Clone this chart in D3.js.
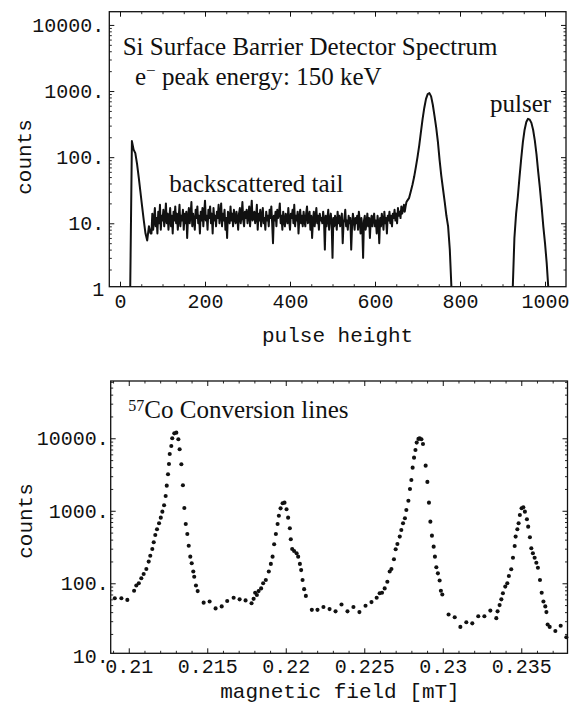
<!DOCTYPE html>
<html lang="en">
<head>
<meta charset="utf-8">
<title>Si detector spectrum and 57Co conversion lines</title>
<script src="https://cdn.jsdelivr.net/npm/d3@7"></script>
<style>
body{margin:0;background:#fff;}
svg{display:block;background:#fff;}
.mono{font-family:"Liberation Mono","DejaVu Sans Mono",monospace;}
.serif{font-family:"Liberation Serif","DejaVu Serif",serif;}
</style>
</head>
<body>
<div id="chart"></div>
<script>
// ---- data, top panel: pulse height spectrum
// low-energy edge peak, channels 24..72 in steps of 4
var edgeStart = 24, edgeStep = 4;
var edgeCounts = [1, 175, 130, 115, 80, 50, 30, 18, 11, 7, 5.5, 9, 7];

// backscattered tail, channels 74..676 in steps of 2
var tailStart = 74, tailStep = 2;
var tailCounts = [
  7,
  14, 8, 11, 17, 9, 12, 7, 15, 10, 19, 8, 13, 11, 16, 9, 12, 20, 10, 14, 8,
  12, 17, 9, 13, 7, 15, 11, 18, 10, 14, 8, 12, 19, 9, 13, 11, 16, 8, 14, 10,
  15, 6, 12, 17, 10, 13, 21, 9, 14, 11, 8, 16, 12, 18, 10, 13, 7, 15, 11, 17,
  9, 14, 22, 11, 13, 8, 16, 12, 18, 10, 14, 7, 17, 11, 13, 9, 15, 12, 19, 10,
  13, 20, 9, 14, 11, 16, 8, 12, 6, 15, 13, 10, 18, 11, 14, 9, 16, 12, 10, 15,
  12, 8, 14, 17, 10, 13, 21, 11, 9, 15, 12, 16, 10, 13, 18, 9, 14, 22, 11, 13,
  15, 10, 12, 19, 8, 14, 11, 16, 9, 13, 17, 10, 12, 8, 15, 11, 13, 9, 16, 12,
  18, 10, 5, 13, 11, 15, 9, 16, 12, 14, 20, 10, 13, 8, 15, 11, 9, 14, 12, 10,
  17, 11, 8, 14, 12, 16, 10, 19, 9, 13, 11, 15, 7, 12, 16, 10, 13, 9, 15, 11,
  9, 14, 18, 10, 12, 15, 8, 13, 6, 11, 15, 9, 12, 17, 10, 13, 8, 14, 11, 12,
  10, 15, 11, 4, 13, 9, 12, 16, 8, 11, 14, 10, 3, 12, 9, 13, 11, 8, 15, 10,
  13, 9, 11, 14, 5, 10, 12, 16, 9, 11, 8, 13, 10, 12, 4, 9, 14, 11, 8, 12,
  10, 13, 8, 15, 11, 7, 12, 9, 3, 11, 13, 8, 10, 14, 9, 12, 6, 11, 13, 9,
  12, 14, 9, 11, 7, 13, 10, 5, 12, 9, 14, 11, 8, 15, 10, 12, 7, 13, 11, 15,
  10, 13, 9, 14, 12, 16, 11, 14, 10, 17, 13, 15, 12, 18, 14, 16, 19, 15, 18, 21,
  22
];

// full-energy electron peak, channels 680..780 in steps of 4
var peakStart = 680, peakStep = 4;
var peakCounts = [24, 30, 38, 50, 70, 100, 150, 240, 380, 560, 760, 900, 930,
  830, 620, 420, 280, 170, 90, 52, 33, 21, 13, 9, 4, 1];

// pulser, channels 924..1008 in steps of 4
var pulserStart = 924, pulserStep = 4;
var pulserCounts = [1, 6, 14, 25, 50, 95, 170, 260, 340, 380, 370,
  330, 260, 180, 110, 60, 34, 18, 9, 5, 2.5, 1];

var topXTicks = [0, 200, 400, 600, 800, 1000];
var topYTicks = [1, 10, 100, 1000, 10000];
var topYLabels = ["1", "10.", "100.", "1000.", "10000."];

// ---- data, bottom panel: 57Co conversion lines
var fieldValues = [
  0.20911, 0.20953, 0.20991, 0.21034, 0.21048, 0.21064, 0.21080, 0.21095, 0.21112, 0.21127,
  0.21137, 0.21150, 0.21159, 0.21169, 0.21180, 0.21193, 0.21204, 0.21214, 0.21225, 0.21235,
  0.21242, 0.21250, 0.21256, 0.21261, 0.21271, 0.21277, 0.21290, 0.21303, 0.21316, 0.21324,
  0.21335, 0.21345, 0.21354, 0.21363, 0.21373, 0.21382, 0.21392, 0.21401, 0.21411, 0.21417,
  0.21428, 0.21439, 0.21477, 0.21515, 0.21553, 0.21592, 0.21627, 0.21668, 0.21706, 0.21744,
  0.21782, 0.21795, 0.21805, 0.21816, 0.21827, 0.21843, 0.21856, 0.21873, 0.21892, 0.21905,
  0.21916, 0.21926, 0.21937, 0.21948, 0.21956, 0.21967, 0.21980, 0.21992, 0.22005, 0.22015,
  0.22026, 0.22032, 0.22041, 0.22053, 0.22069, 0.22079, 0.22090, 0.22098, 0.22107, 0.22117,
  0.22128, 0.22166, 0.22202, 0.22240, 0.22279, 0.22317, 0.22355, 0.22393, 0.22431, 0.22469,
  0.22508, 0.22546, 0.22579, 0.22598, 0.22613, 0.22630, 0.22647, 0.22662, 0.22673, 0.22689,
  0.22700, 0.22711, 0.22726, 0.22736, 0.22747, 0.22759, 0.22768, 0.22781, 0.22791, 0.22800,
  0.22808, 0.22817, 0.22826, 0.22834, 0.22845, 0.22853, 0.22864, 0.22874, 0.22891, 0.22902,
  0.22912, 0.22921, 0.22931, 0.22942, 0.22950, 0.22959, 0.22969, 0.22980, 0.22988, 0.22997,
  0.23037, 0.23076, 0.23112, 0.23150, 0.23188, 0.23226, 0.23265, 0.23303, 0.23341, 0.23349,
  0.23362, 0.23373, 0.23383, 0.23398, 0.23411, 0.23421, 0.23436, 0.23447, 0.23458, 0.23464,
  0.23475, 0.23483, 0.23491, 0.23502, 0.23513, 0.23523, 0.23536, 0.23544, 0.23555, 0.23564,
  0.23574, 0.23585, 0.23596, 0.23606, 0.23619, 0.23630, 0.23641, 0.23653, 0.23660, 0.23668,
  0.23681, 0.23717, 0.23751, 0.23787
];
var conversionCounts = [
  62, 62, 59, 79, 93, 100, 117, 134, 157, 199,
  240, 297, 368, 464, 556, 673, 804, 973, 1190, 1600,
  2220, 3190, 4420, 6070, 7830, 10000, 11700, 11950, 9680, 7050,
  4380, 2250, 1090, 658, 479, 330, 233, 189, 145, 123,
  93, 78, 54, 56, 45, 48, 57, 63, 60, 58,
  53, 61, 74, 69, 78, 85, 100, 111, 145, 185,
  233, 345, 479, 658, 855, 1080, 1267, 1294, 1049, 804,
  574, 405, 297, 279, 259, 233, 185, 152, 111, 83,
  67, 43, 43, 47, 44, 41, 51, 41, 47, 40,
  49, 55, 63, 73, 74, 85, 105, 145, 157, 214,
  294, 348, 440, 543, 673, 789, 1026, 1377, 2000, 2660,
  3935, 5400, 6900, 8710, 9800, 10000, 9680, 8340, 4190, 2500,
  1294, 708, 454, 320, 233, 166, 137, 109, 79, 70,
  37, 34, 25, 29, 28, 35, 35, 42, 33, 41,
  50, 60, 73, 90, 100, 126, 156, 225, 327, 440,
  556, 673, 875, 1081, 1117, 973, 764, 604, 431, 304,
  259, 225, 192, 164, 111, 74, 56, 48, 40, 27,
  25, 22, 26, 18
];

var botXTicks = [0.21, 0.215, 0.22, 0.225, 0.23, 0.235];
var botXLabels = ["0.21", "0.215", "0.22", "0.225", "0.23", "0.235"];
var botYTicks = [10, 100, 1000, 10000];
var botYLabels = ["10.", "100.", "1000.", "10000."];

var width = 574, height = 710;
var ink = "#111";

var svg = d3.select("#chart").append("svg")
    .attr("width", width)
    .attr("height", height);

// minor ticks for log axes: 2..9 of each decade inside the domain
function logMinor(domain){
  var out = [];
  for (var d = 1; d <= 100000; d *= 10){
    for (var k = 2; k <= 9; k++){
      var v = d * k;
      if (v > domain[0] && v < domain[1]) out.push(v);
    }
  }
  return out;
}

// draws a framed panel with inward ticks on all four sides
function panel(x, y, o){
  var g = svg.append("g");
  var xr = x.range(), yr = y.range();
  var inX = function(v){ var p = x(v); return p >= xr[0] - 0.5 && p <= xr[1] + 0.5; };
  var inY = function(v){ var p = y(v); return p <= yr[0] + 0.5 && p >= yr[1] - 0.5; };

  var sides = [
    {make: function(){ return d3.axisBottom(x); }, tr: "translate(0," + yr[0] + ")", major: o.xTicks, minor: o.xMinor, fmt: o.xFmt, pad: o.xPad, lab: true, isX: true},
    {make: function(){ return d3.axisTop(x); }, tr: "translate(0," + yr[1] + ")", major: o.xTicks, minor: o.xMinor, lab: false, isX: true},
    {make: function(){ return d3.axisLeft(y); }, tr: "translate(" + xr[0] + ",0)", major: o.yTicks, minor: logMinor(y.domain()), fmt: o.yFmt, pad: o.yPad, lab: true, isX: false},
    {make: function(){ return d3.axisRight(y); }, tr: "translate(" + xr[1] + ",0)", major: o.yTicks, minor: logMinor(y.domain()), lab: false, isX: false}
  ];
  sides.forEach(function(a){
    var inside = a.isX ? inX : inY;
    // minor ticks
    var mg = g.append("g").attr("transform", a.tr)
      .call(a.make().tickValues(a.minor.filter(inside)).tickSizeInner(-2.5).tickSizeOuter(0).tickFormat(""));
    mg.select(".domain").remove();
    mg.selectAll("line").attr("stroke", ink).attr("stroke-width", 0.9);
    // major ticks + labels
    var jg = g.append("g").attr("transform", a.tr)
      .call(a.make().tickValues(a.major).tickSizeInner(-5).tickSizeOuter(0)
        .tickPadding(a.pad || 0).tickFormat(a.lab ? a.fmt : ""));
    jg.select(".domain").remove();
    jg.attr("font-family", null).attr("font-size", null);
    jg.selectAll(".tick").filter(function(d){ return !inside(d); }).select("line").remove();
    jg.selectAll("line").attr("stroke", ink).attr("stroke-width", 1);
    jg.selectAll("text").attr("class", "mono").attr("fill", ink).style("font-size", "20px");
  });

  g.append("rect")
    .attr("x", xr[0]).attr("y", yr[1])
    .attr("width", xr[1] - xr[0]).attr("height", yr[0] - yr[1])
    .attr("fill", "none").attr("stroke", ink).attr("stroke-width", 1.3);
  return g;
}

// ---------------- top panel ----------------
var xTop = d3.scaleLinear().domain([-25.2, 1049.4]).range([109.3, 566]);
var yTop = d3.scaleLog().domain([Math.pow(10, 0.041), Math.pow(10, 4.2)]).range([286.7, 11.7]);

svg.append("clipPath").attr("id", "clipTop").append("rect")
  .attr("x", 109.3).attr("y", 11.7).attr("width", 566 - 109.3).attr("height", 286.7 - 11.7);

var spectrumLine = d3.line()
  .x(function(d){ return xTop(d[0]); })
  .y(function(d){ return yTop(d[1]); });

function toPoints(start, step, counts){
  return counts.map(function(c, i){ return [start + i * step, c]; });
}
var electronSpectrum = toPoints(edgeStart, edgeStep, edgeCounts)
  .concat(toPoints(tailStart, tailStep, tailCounts))
  .concat(toPoints(peakStart, peakStep, peakCounts));
var pulserSpectrum = toPoints(pulserStart, pulserStep, pulserCounts);

svg.append("g").attr("clip-path", "url(#clipTop)")
  .selectAll("path").data([electronSpectrum, pulserSpectrum]).enter().append("path")
  .attr("d", spectrumLine)
  .attr("fill", "none")
  .attr("stroke", ink)
  .attr("stroke-width", 2)
  .attr("stroke-linejoin", "round");

panel(xTop, yTop, {
  xTicks: topXTicks,
  xMinor: d3.range(0, 1050, 50).filter(function(v){ return v % 200 !== 0; }),
  xFmt: function(d){ return String(d); },
  xPad: 7.5,
  yTicks: topYTicks,
  yFmt: function(d, i){ return topYLabels[i]; },
  yPad: 5
});

// ---------------- bottom panel ----------------
var xBot = d3.scaleLinear().domain([0.20885, 0.237944]).range([110.7, 567.5]);
var yBot = d3.scaleLog().domain([Math.pow(10, 1.034), Math.pow(10, 4.79)]).range([653.3, 381]);

svg.append("g").selectAll("circle")
  .data(fieldValues.map(function(f, i){ return [f, conversionCounts[i]]; }))
  .enter().append("circle")
  .attr("cx", function(d){ return xBot(d[0]); })
  .attr("cy", function(d){ return yBot(d[1]); })
  .attr("r", 2.05)
  .attr("fill", ink);

var botMinor = [];
for (var m = 209; m <= 237; m++){ if (m % 5 !== 0) botMinor.push(m / 1000); }

panel(xBot, yBot, {
  xTicks: botXTicks,
  xMinor: botMinor,
  xFmt: function(d, i){ return botXLabels[i]; },
  xPad: 6,
  yTicks: botYTicks,
  yFmt: function(d, i){ return botYLabels[i]; },
  yPad: 2
});

// ---------------- texts ----------------
svg.append("text").attr("class", "mono").attr("fill", ink)
  .attr("x", 337.6).attr("y", 341.5).attr("text-anchor", "middle")
  .style("font-size", "21px").text("pulse height");
svg.append("text").attr("class", "mono").attr("fill", ink)
  .attr("x", 340).attr("y", 698).attr("text-anchor", "middle")
  .style("font-size", "21px").text("magnetic field [mT]");
svg.append("text").attr("class", "mono").attr("fill", ink)
  .attr("transform", "translate(31,157) rotate(-90)").attr("text-anchor", "middle")
  .style("font-size", "21px").text("counts");
svg.append("text").attr("class", "mono").attr("fill", ink)
  .attr("transform", "translate(31.7,521) rotate(-90)").attr("text-anchor", "middle")
  .style("font-size", "21px").text("counts");

function serifText(x, y, s){
  return svg.append("text").attr("class", "serif").attr("fill", ink)
    .attr("x", x).attr("y", y).style("font-size", "25px").text(s);
}
serifText(122.7, 55, "Si Surface Barrier Detector Spectrum");
var e = serifText(135, 85, "");
e.append("tspan").text("e");
e.append("tspan").attr("dy", -9).style("font-size", "17px").text("\u2212");
e.append("tspan").attr("dy", 9).text(" peak energy: 150 keV");
serifText(169.3, 191.7, "backscattered tail");
serifText(490, 111.7, "pulser");
var co = serifText(128.3, 418.3, "");
co.append("tspan").attr("dy", -7).style("font-size", "16px").text("57");
co.append("tspan").attr("dy", 7).text("Co Conversion lines");
</script>
</body>
</html>
